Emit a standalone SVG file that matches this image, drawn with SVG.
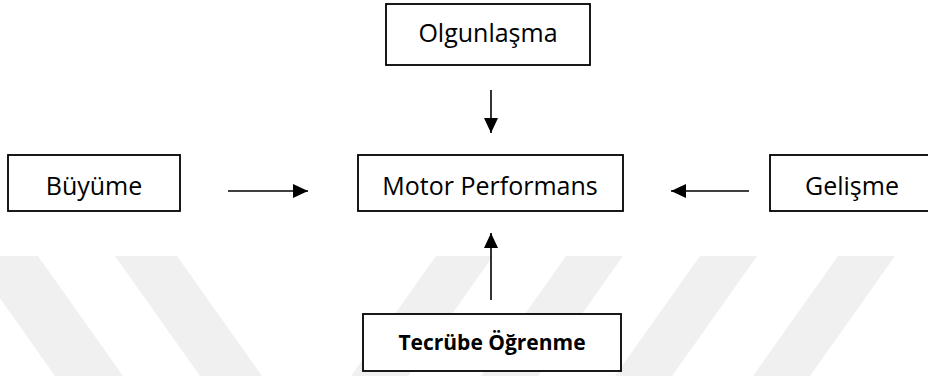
<svg xmlns="http://www.w3.org/2000/svg" width="928" height="376" viewBox="0 0 928 376">
  <style>
    .box { fill: #ffffff; stroke: #000000; stroke-width: 1.8; }
    .lbl { font-family: "Open Sans", "Noto Sans", "DejaVu Sans", sans-serif; font-size: 25px; fill: #000000; text-anchor: middle; }
    .bold { font-weight: bold; font-size: 21px; }
    .conn { stroke: #000000; stroke-width: 1.6; fill: none; marker-end: url(#arrow); }
    .wm { fill: #f0f0f0; }
  </style>
  <defs>
    <marker id="arrow" markerUnits="userSpaceOnUse" markerWidth="16" markerHeight="14" refX="15" refY="7" orient="auto">
      <path d="M0,0 L15,7 L0,14 Z" fill="#000000"/>
    </marker>
  </defs>
  <rect width="928" height="376" fill="#ffffff"/>
  <g id="watermark">
    <polygon class="wm" points="-30,256 38,256 123,376 55,376"/>
    <polygon class="wm" points="115,256 177,256 262,376 200,376"/>
    <polygon class="wm" points="436,256 493,256 408,376 351,376"/>
    <polygon class="wm" points="566,256 623,256 538,376 481,376"/>
    <polygon class="wm" points="700,256 757,256 672,376 615,376"/>
    <polygon class="wm" points="838,256 895,256 810,376 753,376"/>
  </g>
  <g id="connectors">
    <line class="conn" x1="491" y1="90" x2="491" y2="133"/>
    <line class="conn" x1="228" y1="191" x2="308" y2="191"/>
    <line class="conn" x1="749" y1="191" x2="671" y2="191"/>
    <line class="conn" x1="491" y1="300" x2="491" y2="233"/>
  </g>
  <g id="olgunlasma">
    <rect class="box" x="386" y="4" width="204" height="61"/>
    <text class="lbl" x="488" y="42">Olgunlaşma</text>
  </g>
  <g id="buyume">
    <rect class="box" x="8" y="155" width="172" height="56"/>
    <text class="lbl" x="94" y="195">Büyüme</text>
  </g>
  <g id="motor-performans">
    <rect class="box" x="358" y="155" width="265" height="56"/>
    <text class="lbl" x="490" y="195">Motor Performans</text>
  </g>
  <g id="gelisme">
    <rect class="box" x="770" y="155" width="172" height="56"/>
    <text class="lbl" x="852" y="195">Gelişme</text>
  </g>
  <g id="tecrube-ogrenme">
    <rect class="box" x="363" y="314" width="258" height="57"/>
    <text class="lbl bold" x="492" y="350">Tecrübe Öğrenme</text>
  </g>
</svg>
